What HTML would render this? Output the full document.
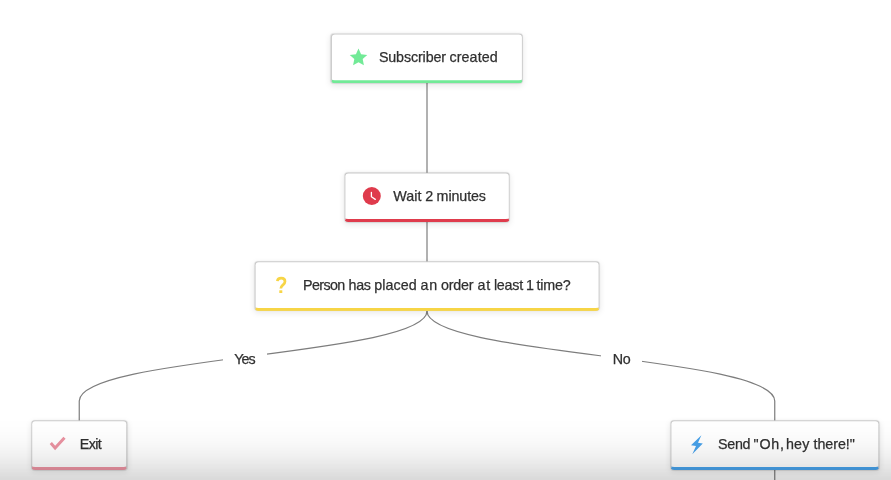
<!DOCTYPE html>
<html>
<head>
<meta charset="utf-8">
<style>
  html, body { margin: 0; padding: 0; }
  body {
    width: 891px; height: 480px; overflow: hidden; position: relative;
    background: #ffffff;
    font-family: "Liberation Sans", sans-serif;
    color: #333333;
  }
  .node {
    position: absolute;
    box-sizing: border-box;
    background: #ffffff;
    border: 1px solid #c9c9c9;
    border-bottom-width: 3.4px;
    border-bottom-style: solid;
    border-radius: 4px;
    box-shadow: 0 0 1px rgba(0,0,0,0.10), 0 2px 6px rgba(0,0,0,0.09);
    transform-origin: 0 0;
  }
  .text { position: absolute; left: 0; top: 0; width: 891px; height: 480px; will-change: transform; }
  .w {
    position: absolute;
    white-space: nowrap;
    font-size: 14.3px;
    line-height: 16px;
    color: #303030;
    -webkit-text-stroke: 0.25px #303030;
  }
  .branch { position: absolute; background: #ffffff; }
  svg.wires { position: absolute; left: 0; top: 0; }
  svg.icons { position: absolute; left: 0; top: 0; }
  .fade {
    position: absolute; left: -120px; right: -120px; top: -120px; bottom: 0;
    box-shadow: inset 0 0 56px 0 rgba(0,0,0,0.31);
    pointer-events: none;
  }
</style>
</head>
<body>

<!-- connector lines -->
<svg class="wires" width="891" height="480" viewBox="0 0 891 480">
  <g fill="none" stroke="#7d7d7d" stroke-width="1.2">
    <path d="M427 83 V173"/>
    <path d="M427 222 V262"/>
    <path d="M427 311 C427 355.8 79.25 355.8 79.25 401.1 V421"/>
    <path d="M427 311 C427 355.8 774.75 355.8 774.75 401.1 V421"/>
    <path d="M774.75 470 V480"/>
  </g>
</svg>

<!-- branch labels (white background hides the line) -->
<div class="branch" style="left:223px; top:349px; width:44px; height:20px;"></div>
<div class="branch" style="left:601px; top:349px; width:41px; height:20px;"></div>

<!-- nodes -->
<div class="node" style="left:330px; top:33px; width:192px; height:50px; border-bottom-color:#72ea97; transform:translate(0.90px,0.50px) scale(1.00000,0.99400);"></div>
<div class="node" style="left:344px; top:172px; width:165px; height:50px; border-bottom-color:#df3b4c; transform:translate(0.40px,0.40px) scale(1.00242,0.99400);"></div>
<div class="node" style="left:254px; top:261px; width:345px; height:50px; border-bottom-color:#f7d546; transform:translate(0.60px,0.20px) scale(1.00000,0.99400);"></div>
<div class="node" style="left:31px; top:420px; width:96px; height:50px; border-bottom-color:#eb93a2; transform:translate(0.20px,0.20px) scale(1.00104,0.99600);"></div>
<div class="node" style="left:670px; top:420px; width:209px; height:50px; border-bottom-color:#48a2ea; transform:translate(0.40px,0.20px) scale(1.00000,0.99600);"></div>

<!-- node text (each word placed individually to match glyph extents) -->
<div class="text">
<span class="w" style="left:378.90px; top:49.20px; letter-spacing:-0.13px;">Subscriber</span>
<span class="w" style="left:449.43px; top:49.20px; letter-spacing:0.10px;">created</span>
<span class="w" style="left:393.30px; top:188.00px; letter-spacing:0.00px;">Wait</span>
<span class="w" style="left:425.26px; top:188.00px; letter-spacing:0.00px;">2</span>
<span class="w" style="left:436.60px; top:188.00px; letter-spacing:-0.11px;">minutes</span>
<span class="w" style="left:303.00px; top:276.80px; letter-spacing:-0.60px;">Person</span>
<span class="w" style="left:348.50px; top:276.80px; letter-spacing:-0.27px;">has</span>
<span class="w" style="left:374.30px; top:276.80px; letter-spacing:0.05px;">placed</span>
<span class="w" style="left:420.42px; top:276.80px; letter-spacing:0.80px;">an</span>
<span class="w" style="left:440.95px; top:276.80px; letter-spacing:-0.21px;">order</span>
<span class="w" style="left:477.61px; top:276.80px; letter-spacing:0.80px;">at</span>
<span class="w" style="left:493.90px; top:276.80px; letter-spacing:-0.20px;">least</span>
<span class="w" style="left:526.10px; top:276.80px; letter-spacing:0.00px;">1</span>
<span class="w" style="left:536.59px; top:276.80px; letter-spacing:-0.20px;">time?</span>
<span class="w" style="left:79.70px; top:435.90px; letter-spacing:-0.56px;">Exit</span>
<span class="w" style="left:718.10px; top:435.90px; letter-spacing:-0.34px;">Send</span>
<span class="w" style="left:753.57px; top:435.90px; letter-spacing:0.75px;">"Oh,</span>
<span class="w" style="left:785.90px; top:435.90px; letter-spacing:0.28px;">hey</span>
<span class="w" style="left:813.49px; top:435.90px; letter-spacing:-0.06px;">there!"</span>
<span class="w" style="left:234.30px; top:351.00px; letter-spacing:-1.00px;">Yes</span>
<span class="w" style="left:612.80px; top:351.00px; letter-spacing:-0.48px;">No</span>
</div>

<!-- icons -->
<svg class="icons" width="891" height="480" viewBox="0 0 891 480">
  <!-- star -->
  <polygon fill="#72ea97" points="358.50,48.55 361.09,54.19 367.25,54.91 362.68,59.11 363.91,65.19 358.50,62.15 353.09,65.19 354.32,59.11 349.75,54.91 355.91,54.19"/>
  <!-- clock -->
  <circle cx="371.8" cy="196" r="9" fill="#df3b4c"/>
  <path d="M371.4 192.3 V196.7 L375.3 199.4" fill="none" stroke="#ffffff" stroke-width="1.3" stroke-linecap="round" stroke-linejoin="round"/>
  <!-- question mark -->
  <path d="M277.4 281.2 C277.6 279.2 279.2 278.2 281.2 278.2 C283.4 278.2 285 279.5 285 281.4 C285 283.2 283.8 284 282.6 285.2 C281.5 286.3 280.8 287 280.8 288.4" fill="none" stroke="#f7d546" stroke-width="2.7"/>
  <rect x="279.3" y="290.3" width="3" height="2.7" fill="#f7d546"/>
  <!-- check -->
  <path d="M50.8 443.1 L55.1 448 L64.5 437.8" fill="none" stroke="#eb93a2" stroke-width="3"/>
  <!-- bolt -->
  <polygon fill="#48a2ea" points="701.4,435.2 691,445.3 696,446 692.3,454.3 702.8,443.4 698,442.7"/>
</svg>

<div class="fade"></div>

</body>
</html>
